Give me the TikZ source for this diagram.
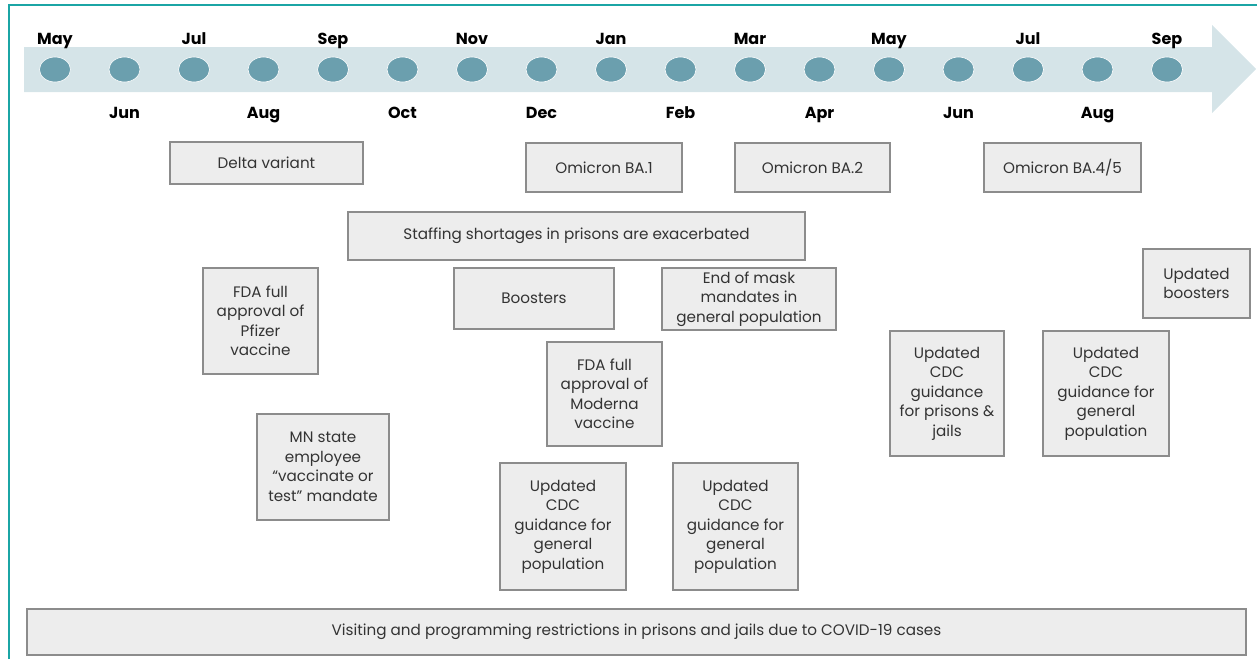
\documentclass[tikz,border=0pt]{standalone}
\usepackage{fontspec}
\setmainfont{Poppins}
\usetikzlibrary{shapes.geometric}
\definecolor{frameteal}{HTML}{1BA5A5}
\definecolor{band}{HTML}{D5E4E8}
\definecolor{dot}{HTML}{6B9FAE}
\definecolor{boxfill}{HTML}{EDEDED}
\definecolor{boxline}{HTML}{8C8C8C}
\definecolor{txt}{HTML}{333333}
\tikzset{
  evt/.style={draw=boxline, fill=boxfill, line width=1.3pt, align=center, inner sep=2pt,
    text=txt, font=\fontsize{15.2}{19.5}\selectfont},
  monthdot/.style={ellipse, fill=dot, draw=white, line width=0.6pt, minimum width=31pt, minimum height=25pt, inner sep=0pt},
  monthlbl/.style={font=\fontsize{16}{18}\selectfont\bfseries, text=black, anchor=base, inner sep=0pt}
}
\begin{document}
\begin{tikzpicture}[x=1pt,y=-1pt]
\useasboundingbox (0,0) rectangle (1257,659);
% frame
\draw[frameteal, line width=2pt] (9,659) -- (9,5) -- (1257,5);
% timeline arrow
\fill[band] (24,47) -- (1212,47) -- (1212,25) -- (1256,69) -- (1212,113) -- (1212,92) -- (24,92) -- cycle;
% month dots and labels
\foreach \m [count=\i from 0] in {May,Jun,Jul,Aug,Sep,Oct,Nov,Dec,Jan,Feb,Mar,Apr,May,Jun,Jul,Aug,Sep}{
  \pgfmathsetmacro{\xx}{55+69.5*\i}
  \node[monthdot] (d\i) at (\xx,69.5) {};
  \pgfmathtruncatemacro{\odd}{mod(\i,2)}
  \ifnum\odd=0
    \node[monthlbl] (l\i) at (\xx,44) {\m};
  \else
    \node[monthlbl] (l\i) at (\xx,118) {\m};
  \fi
}
% event boxes
\node[evt, minimum width=193pt, minimum height=42pt] (delta) at (266.5,163) {Delta variant};
\node[evt, minimum width=156pt, minimum height=49pt] (ba1) at (604,167.5) {Omicron BA.1};
\node[evt, minimum width=155pt, minimum height=49pt] (ba2) at (812.5,167.5) {Omicron BA.2};
\node[evt, minimum width=157pt, minimum height=49pt] (ba45) at (1062.5,167.5) {Omicron BA.4/5};
\node[evt, minimum width=457pt, minimum height=48pt] (staff) at (576.5,236) {Staffing shortages in prisons are exacerbated};
\node[evt, minimum width=160pt, minimum height=61pt] (boost) at (534,298.5) {Boosters};
\node[evt, minimum width=174pt, minimum height=62pt] (mask) at (749,299) {End of mask\\mandates in\\general population};
\node[evt, minimum width=115pt, minimum height=106pt] (pfizer) at (260.5,321) {FDA full\\approval of\\Pfizer\\vaccine};
\node[evt, minimum width=132pt, minimum height=106pt] (mn) at (323,467) {MN state\\employee\\“vaccinate or\\test” mandate};
\node[evt, minimum width=115pt, minimum height=104pt] (moderna) at (604.5,394) {FDA full\\approval of\\Moderna\\vaccine};
\node[evt, minimum width=126pt, minimum height=127pt] (cdcA) at (563,526.5) {Updated\\CDC\\guidance for\\general\\population};
\node[evt, minimum width=125pt, minimum height=127pt] (cdcB) at (735.5,526.5) {Updated\\CDC\\guidance for\\general\\population};
\node[evt, minimum width=107pt, minimum height=69pt] (uboost) at (1196.5,283.5) {Updated\\boosters};
\node[evt, minimum width=114pt, minimum height=125pt] (cdcP) at (947,393.5) {Updated\\CDC\\guidance\\for prisons \&\\jails};
\node[evt, minimum width=126pt, minimum height=125pt] (cdcC) at (1106,393.5) {Updated\\CDC\\guidance for\\general\\population};
\node[evt, minimum width=1219pt, minimum height=46pt] (visit) at (636.5,632) {Visiting and programming restrictions in prisons and jails due to COVID-19 cases};
\end{tikzpicture}
\end{document}
